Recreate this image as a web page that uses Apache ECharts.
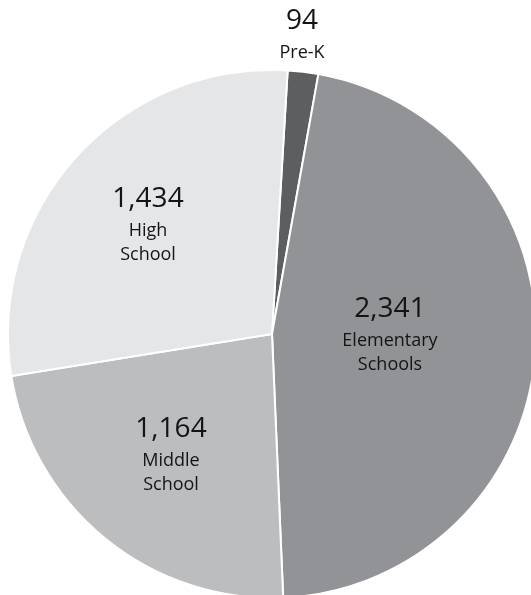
<!DOCTYPE html>
<html>
<head>
<meta charset="utf-8">
<script src="https://cdn.jsdelivr.net/npm/echarts@6/dist/echarts.min.js"></script>
<style>
  html, body { margin: 0; padding: 0; background: #fff; }
  #chart { width: 531px; height: 595px; }
</style>
</head>
<body>
<div id="chart"></div>
<script>
// School enrollment by level
const categories = ["Pre-K", "Elementary\nSchools", "Middle\nSchool", "High\nSchool"];
const values = [94, 2341, 1164, 1434];
const colors = ["#5d5e60", "#929396", "#bcbdbf", "#e5e6e8"];

// where each label block sits (centre of text block)
const labelPos = [[302, 33], [390, 333], [171, 453], [148, 223]];

const chart = echarts.init(document.getElementById("chart"));

const option = {
    animation: false,
    backgroundColor: "#fff",
    series: [
        {
            type: "pie",
            center: [272, 334],
            radius: [0, 264],
            startAngle: 86.6,
            clockwise: true,
            data: categories.map((name, i) => ({
                name: name,
                value: values[i],
                itemStyle: { color: colors[i] },
            })),
            itemStyle: {
                borderColor: "#fff",
                borderWidth: 2,
            },
            label: {
                show: true,
                position: "inside",
                fontFamily: "Open Sans",
                color: "#141414",
                formatter: function (p) {
                    return "{num|" + p.value.toLocaleString("en-US") + "}\n{lab|" + p.name.replace("\n", "}\n{lab|") + "}";
                },
                rich: {
                    num: { fontSize: 28, lineHeight: 40, fontFamily: "Open Sans", color: "#141414" },
                    lab: { fontSize: 18, lineHeight: 24, fontFamily: "Open Sans", color: "#141414" },
                },
            },
            labelLine: { show: false },
            labelLayout: function (p) {
                return {
                    x: labelPos[p.dataIndex][0],
                    y: labelPos[p.dataIndex][1],
                    align: "center",
                    verticalAlign: "middle",
                };
            },
            emphasis: { disabled: true },
        },
    ],
};

chart.setOption(option);
</script>
</body>
</html>
